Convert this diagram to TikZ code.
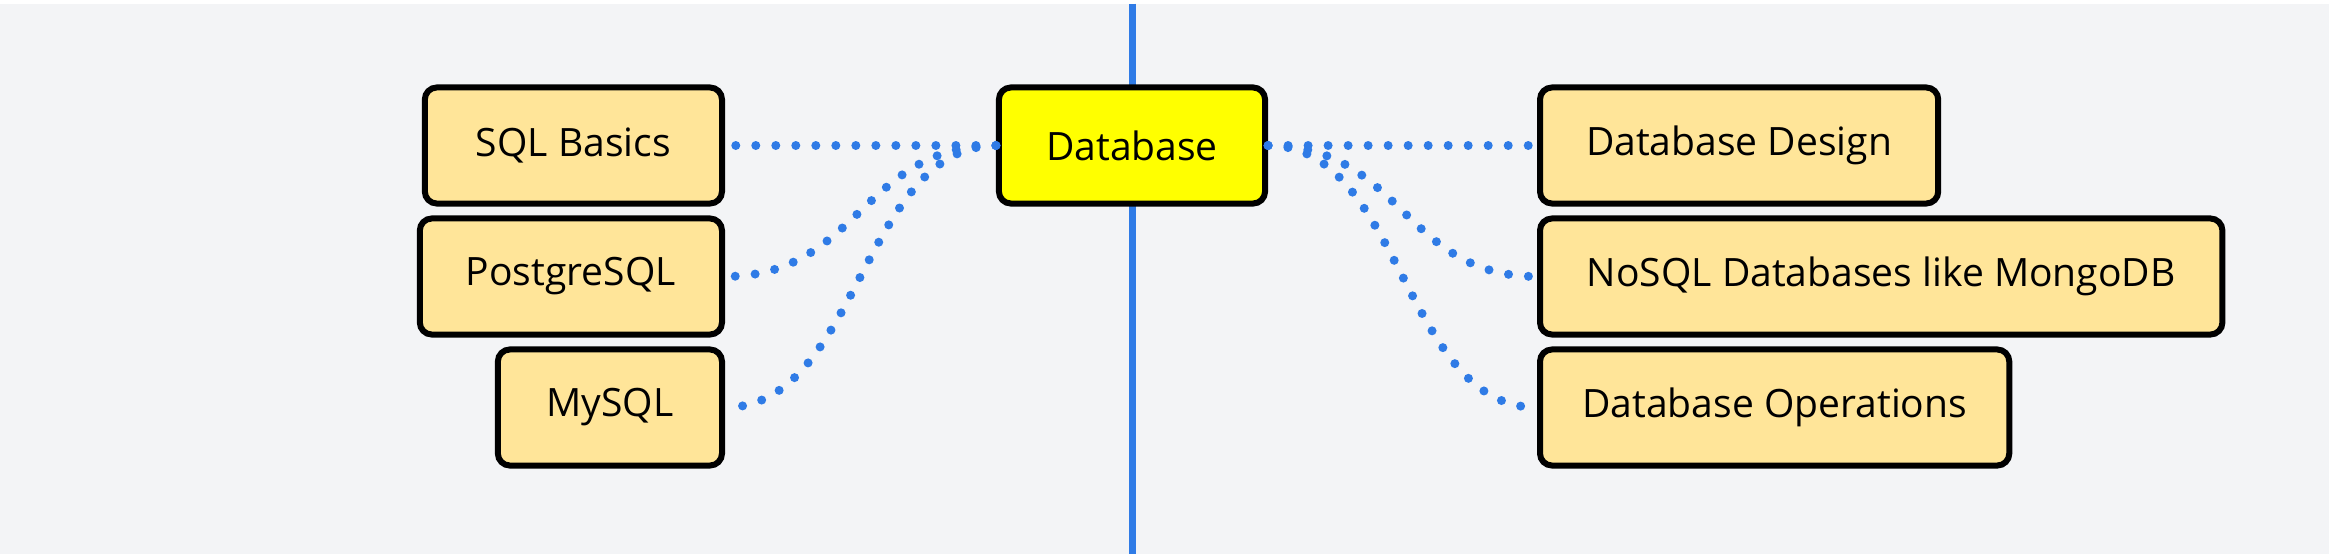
\documentclass[tikz,border=0pt]{standalone}
\usepackage{fontspec}
\setmainfont{Open Sans}
\definecolor{bg}{HTML}{F3F4F6}
\definecolor{topic}{HTML}{FFE599}
\definecolor{root}{HTML}{FFFF00}
\definecolor{linkblue}{HTML}{2F7BE6}
\begin{document}
\begin{tikzpicture}[x=0.01cm,y=-0.01cm,line cap=round]
	\tikzstyle{box}=[draw=black,line width=0.06cm,rounded corners=0.12cm,fill=topic,minimum height=1.16cm,inner sep=0pt,font=\fontsize{11.1}{13}\selectfont];
	\tikzstyle{dotlink}=[draw=linkblue,line width=0.09cm,dash pattern=on 0pt off 0.2cm];

	\fill[bg] (0,0) rectangle (2329,550);
	\draw[linkblue,line width=0.07cm,line cap=butt] (1132,0) -- (1132,550);

	\node[box,fill=root,minimum width=2.66cm] (db) at (1132,142) {Database};
	\node[box,anchor=east,minimum width=2.97cm] (sql) at (725,142) {SQL Basics};
	\node[box,anchor=east,minimum width=3.02cm] (pg) at (725,273) {PostgreSQL};
	\node[box,anchor=east,minimum width=2.24cm] (my) at (725,404) {MySQL};
	\node[box,anchor=west,minimum width=3.98cm] (design) at (1537,142) {Database Design};
	\node[box,anchor=west,minimum width=6.82cm] (nosql) at (1537,273) {NoSQL Databases like MongoDB};
	\node[box,anchor=west,minimum width=4.69cm] (ops) at (1537,404) {Database Operations};

	\draw[dotlink] (db.west) -- (sql.east);
	\draw[dotlink] (db.west) .. controls +(-134,0) and +(134,0) .. (pg.east);
	\draw[dotlink] (db.west) .. controls +(-134,0) and +(134,0) .. (my.east);
	\draw[dotlink] (db.east) -- (design.west);
	\draw[dotlink] (db.east) .. controls +(134,0) and +(-134,0) .. (nosql.west);
	\draw[dotlink] (db.east) .. controls +(134,0) and +(-134,0) .. (ops.west);
\end{tikzpicture}
\end{document}
